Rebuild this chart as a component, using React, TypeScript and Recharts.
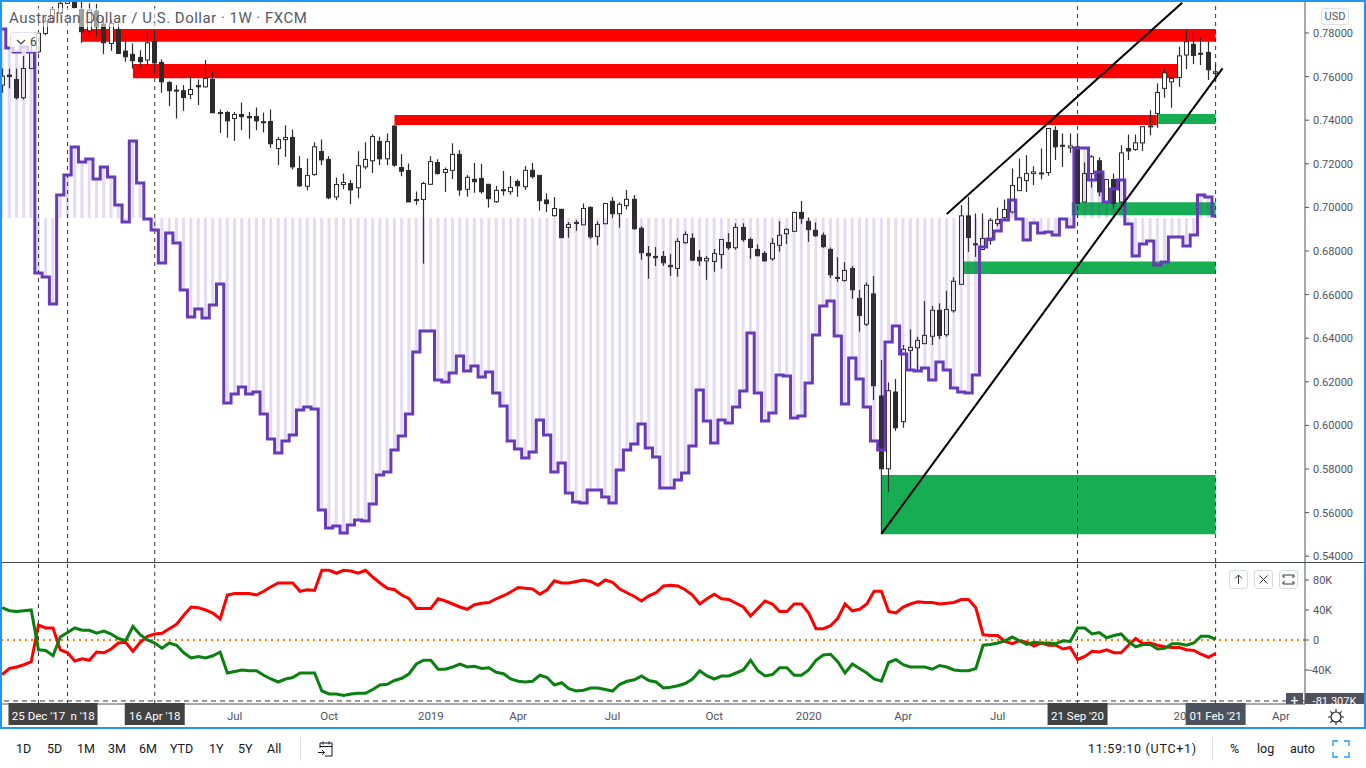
import React from "react";
import {
  ComposedChart,
  Bar,
  Line,
  XAxis,
  YAxis,
  ReferenceArea,
  ReferenceLine,
} from "recharts";

// weekly AUD/USD candles, first one is 5 weeks before 25 Dec '17
const opens = [
  0.7561, 0.7607, 0.7587, 0.7503, 0.7637, 0.7714, 0.7798, 0.7852, 0.789, 0.7936,
  0.799, 0.7908, 0.781, 0.7901, 0.7841, 0.7752, 0.7816, 0.7717, 0.7702, 0.7688,
  0.7676, 0.776, 0.7665, 0.7573, 0.7538, 0.7535, 0.7518, 0.7559, 0.7553, 0.7587,
  0.7435, 0.7435, 0.7408, 0.7426, 0.7417, 0.7417, 0.7393, 0.7394, 0.727, 0.7311,
  0.7321, 0.7178, 0.7097, 0.7151, 0.7256, 0.722, 0.7048, 0.7105, 0.7109, 0.709,
  0.7186, 0.7214, 0.7302, 0.7223, 0.7373, 0.7183, 0.7169, 0.7036, 0.7036, 0.7106,
  0.7206, 0.716, 0.717, 0.7243, 0.7083, 0.7129, 0.7133, 0.7106, 0.7026, 0.7081,
  0.7072, 0.7119, 0.7095, 0.717, 0.7147, 0.7034, 0.6962, 0.6991, 0.6908, 0.6931,
  0.692, 0.7, 0.6867, 0.6925, 0.7028, 0.6971, 0.7008, 0.7037, 0.6904, 0.6789,
  0.6775, 0.6775, 0.6734, 0.672, 0.6838, 0.6858, 0.6771, 0.6755, 0.6752, 0.6784,
  0.6839, 0.6815, 0.6908, 0.6853, 0.6807, 0.6789, 0.6764, 0.6826, 0.6879, 0.689,
  0.6977, 0.6936, 0.6895, 0.6872, 0.6807, 0.6679, 0.6665, 0.672, 0.6583, 0.6464,
  0.6603, 0.6135, 0.5801, 0.6153, 0.6017, 0.6344, 0.6356, 0.6375, 0.6409, 0.6528,
  0.6416, 0.6526, 0.6647, 0.6961, 0.6833, 0.6807, 0.6849, 0.6926, 0.6953, 0.6979,
  0.7077, 0.7123, 0.7155, 0.7158, 0.716, 0.7353, 0.7285, 0.7273, 0.7278, 0.7025,
  0.7155, 0.7214, 0.7025, 0.7128, 0.7025, 0.727, 0.7266, 0.7296, 0.7371, 0.7431,
  0.7546, 0.7576, 0.7596, 0.7699, 0.7748, 0.7707, 0.7711, 0.7614,
];
const highs = [
  0.7637, 0.7637, 0.7637, 0.7694, 0.7752, 0.7806, 0.7875, 0.792, 0.796, 0.801,
  0.801, 0.7951, 0.7936, 0.7933, 0.7875, 0.7859, 0.7844, 0.778, 0.7752, 0.7721,
  0.7806, 0.7806, 0.7679, 0.7579, 0.7561, 0.7561, 0.7602, 0.7587, 0.7676, 0.7622,
  0.7449, 0.7442, 0.7438, 0.7481, 0.7438, 0.7458, 0.7435, 0.7449, 0.7324, 0.7376,
  0.7357, 0.7235, 0.7224, 0.7299, 0.7311, 0.7235, 0.7137, 0.7155, 0.7125, 0.7258,
  0.7299, 0.7336, 0.7324, 0.7339, 0.7377, 0.7244, 0.7201, 0.7073, 0.7117, 0.7235,
  0.7221, 0.7183, 0.7294, 0.7263, 0.7148, 0.7204, 0.7199, 0.7106, 0.7098, 0.7167,
  0.7144, 0.7129, 0.719, 0.7204, 0.7147, 0.7064, 0.7047, 0.6994, 0.6933, 0.6942,
  0.7018, 0.7005, 0.6936, 0.7018, 0.7047, 0.7023, 0.708, 0.7057, 0.6913, 0.6823,
  0.6818, 0.68, 0.6786, 0.6859, 0.689, 0.6881, 0.6804, 0.6777, 0.6809, 0.6853,
  0.6882, 0.6927, 0.6927, 0.6862, 0.683, 0.68, 0.6859, 0.6937, 0.6904, 0.698,
  0.7029, 0.6954, 0.6931, 0.6885, 0.6816, 0.6772, 0.6749, 0.6731, 0.6621, 0.6656,
  0.6685, 0.63, 0.6197, 0.6213, 0.6369, 0.6441, 0.6407, 0.6571, 0.6548, 0.656,
  0.6617, 0.6679, 0.701, 0.7048, 0.6972, 0.6972, 0.6949, 0.6999, 0.7036, 0.7178,
  0.7224, 0.724, 0.7189, 0.727, 0.7362, 0.7373, 0.7339, 0.7339, 0.7339, 0.7206,
  0.724, 0.7229, 0.713, 0.7155, 0.7285, 0.7334, 0.7334, 0.737, 0.7446, 0.7569,
  0.7637, 0.7602, 0.7737, 0.7816, 0.7803, 0.778, 0.7761, 0.766,
];
const lows = [
  0.7526, 0.7546, 0.7495, 0.7495, 0.7637, 0.7709, 0.779, 0.7844, 0.7882, 0.796,
  0.7912, 0.7755, 0.7783, 0.7783, 0.7703, 0.7718, 0.7703, 0.7668, 0.7637, 0.7645,
  0.7645, 0.7617, 0.7526, 0.7464, 0.7408, 0.7443, 0.7497, 0.7469, 0.755, 0.7434,
  0.7342, 0.7319, 0.7305, 0.7354, 0.7315, 0.7354, 0.7344, 0.7273, 0.7194, 0.7232,
  0.7174, 0.7094, 0.7079, 0.7145, 0.7194, 0.7038, 0.7033, 0.7084, 0.7015, 0.7042,
  0.7175, 0.7158, 0.7194, 0.7194, 0.7186, 0.7143, 0.7025, 0.7012, 0.6742, 0.7102,
  0.7151, 0.7071, 0.713, 0.7054, 0.7049, 0.7067, 0.7063, 0.6999, 0.7021, 0.7054,
  0.7058, 0.7049, 0.708, 0.7132, 0.6985, 0.6979, 0.6957, 0.6861, 0.6861, 0.6893,
  0.692, 0.6856, 0.6827, 0.6925, 0.6951, 0.6907, 0.6991, 0.6898, 0.676, 0.6673,
  0.6731, 0.6732, 0.6686, 0.6682, 0.6833, 0.6755, 0.6732, 0.6668, 0.6705, 0.6719,
  0.6806, 0.6806, 0.6842, 0.6764, 0.6778, 0.6751, 0.6755, 0.6797, 0.6832, 0.689,
  0.6925, 0.6842, 0.6865, 0.6813, 0.6677, 0.6659, 0.6659, 0.6581, 0.643, 0.6456,
  0.6116, 0.5801, 0.5696, 0.5975, 0.5989, 0.6254, 0.6254, 0.6375, 0.6369, 0.6396,
  0.6407, 0.6517, 0.6647, 0.6796, 0.6773, 0.6804, 0.6829, 0.6914, 0.6938, 0.6972,
  0.7077, 0.7071, 0.7102, 0.7129, 0.7145, 0.7217, 0.7186, 0.725, 0.7018, 0.7025,
  0.7091, 0.7051, 0.702, 0.6995, 0.7018, 0.7217, 0.7259, 0.7259, 0.7331, 0.7365,
  0.7503, 0.7457, 0.7553, 0.7634, 0.7657, 0.7653, 0.7584, 0.7576,
];
const closes = [
  0.7602, 0.76, 0.7503, 0.7637, 0.7714, 0.7798, 0.7852, 0.7908, 0.7936, 0.799,
  0.7917, 0.7806, 0.7905, 0.7829, 0.7755, 0.7844, 0.7706, 0.7691, 0.7673, 0.7668,
  0.7755, 0.7663, 0.7576, 0.7535, 0.7536, 0.7504, 0.7541, 0.7553, 0.7591, 0.7434,
  0.7433, 0.7397, 0.7426, 0.7416, 0.7411, 0.7397, 0.7391, 0.7292, 0.7311, 0.7321,
  0.7186, 0.7099, 0.7146, 0.7278, 0.7218, 0.7044, 0.7105, 0.7114, 0.708, 0.7191,
  0.722, 0.7325, 0.7223, 0.7302, 0.7194, 0.7166, 0.7025, 0.7033, 0.711, 0.721,
  0.7155, 0.7174, 0.7243, 0.708, 0.7138, 0.7118, 0.7072, 0.704, 0.7078, 0.7078,
  0.7092, 0.7099, 0.717, 0.7141, 0.7031, 0.7017, 0.6995, 0.6861, 0.6922, 0.6929,
  0.6995, 0.6865, 0.6922, 0.7018, 0.6971, 0.7014, 0.7037, 0.6902, 0.6792, 0.6778,
  0.6769, 0.6746, 0.6728, 0.6844, 0.6876, 0.6758, 0.6755, 0.6766, 0.6789, 0.6853,
  0.6815, 0.6908, 0.6852, 0.6816, 0.6778, 0.6755, 0.6835, 0.6872, 0.6899, 0.6977,
  0.695, 0.6898, 0.687, 0.682, 0.6691, 0.6675, 0.6711, 0.6622, 0.6505, 0.6643,
  0.6182, 0.5801, 0.6159, 0.5989, 0.6349, 0.6358, 0.639, 0.6413, 0.6528, 0.6412,
  0.6532, 0.6661, 0.6961, 0.6862, 0.6829, 0.6857, 0.6941, 0.6944, 0.699, 0.71,
  0.7136, 0.7155, 0.7163, 0.7155, 0.7362, 0.7278, 0.7282, 0.7282, 0.7018, 0.7155,
  0.7232, 0.7071, 0.7128, 0.7018, 0.725, 0.7259, 0.7296, 0.737, 0.7374, 0.7527,
  0.7617, 0.7591, 0.7695, 0.776, 0.7697, 0.7704, 0.7631, 0.7622,
];

// COT net position drawn over the price pane, on its own unlabelled scale
const netOverlay = [
  189, 170, 166, 171, 166, -55, -59, -86, 23, 43,
  71, 56, 59, 39, 51, 41, 13, -4, 77, 35,
  -1, -12, -45, -15, -25, -72, -99, -91, -100, -87,
  -66, -185, -176, -169, -176, -174, -196, -221, -235, -223,
  -217, -192, -189, -191, -292, -310, -308, -315, -307, -302,
  -303, -286, -257, -254, -232, -218, -196, -134, -113, -113,
  -162, -164, -155, -138, -153, -148, -159, -154, -175, -188,
  -223, -231, -240, -234, -202, -217, -254, -245, -275, -284,
  -285, -272, -272, -279, -285, -252, -232, -226, -206, -230,
  -239, -270, -270, -262, -255, -228, -172, -203, -225, -202,
  -205, -189, -173, -115, -175, -203, -195, -157, -158, -200,
  -198, -165, -117, -88, -83, -118, -186, -140, -161, -189,
  -223, -232, -124, -108, -136, -152, -153, -150, -162, -144,
  -152, -170, -174, -175, -157, -29, -21, -13, -2, 18,
  -1, -22, -5, -15, -14, -17, -1, -9, 70, 70,
  38, 46, 16, 29, 38, -6, -38, -26, -23, -47,
  -44, -19, -19, -28, -17, 23, 21, 2,
];

// lower pane, thousands of contracts
const greenNet = [
  43, 39, 38, 39, 40, -13, -14, -21, 4, 10,
  16, 13, 13, 9, 12, 8, 2, -1, 18, 7,
  0, -4, -11, -4, -7, -17, -24, -22, -24, -21,
  -16, -44, -42, -40, -41, -41, -47, -52, -56, -52,
  -50, -44, -44, -44, -68, -72, -72, -74, -72, -71,
  -71, -66, -60, -59, -54, -51, -45, -32, -27, -27,
  -39, -39, -36, -32, -36, -35, -38, -37, -43, -45,
  -52, -55, -56, -55, -47, -50, -60, -57, -65, -68,
  -67, -64, -64, -66, -68, -59, -55, -53, -48, -54,
  -56, -64, -63, -61, -58, -52, -41, -48, -52, -48,
  -48, -44, -40, -27, -41, -48, -46, -37, -37, -47,
  -47, -40, -27, -20, -19, -29, -44, -32, -38, -44,
  -52, -55, -30, -26, -33, -36, -36, -36, -39, -34,
  -36, -40, -41, -41, -38, -7, -6, -4, -1, 4,
  -1, -6, -3, -4, -4, -5, -1, -2, 16, 16,
  8, 10, 3, 6, 8, -2, -9, -6, -6, -12,
  -11, -5, -5, -7, -4, 5, 5, 1,
];
const redNet = [
  -46, -38, -36, -33, -29, 20, 16, 16, -13, -17,
  -28, -25, -27, -16, -17, -12, -4, -3, -15, -3,
  5, 8, 9, 15, 21, 33, 44, 43, 40, 36,
  28, 60, 62, 62, 62, 60, 65, 71, 76, 76,
  76, 65, 67, 66, 93, 93, 89, 93, 92, 89,
  93, 84, 76, 69, 67, 60, 55, 42, 42, 42,
  55, 52, 48, 44, 41, 47, 49, 50, 55, 59,
  64, 70, 69, 68, 61, 67, 79, 76, 76, 78,
  80, 78, 73, 80, 77, 68, 63, 58, 52, 59,
  63, 72, 73, 72, 67, 60, 48, 55, 61, 55,
  54, 49, 44, 32, 42, 52, 48, 38, 38, 48,
  48, 36, 15, 15, 19, 29, 48, 39, 41, 48,
  65, 65, 38, 36, 44, 48, 51, 50, 50, 48,
  49, 50, 54, 54, 43, 7, 6, 6, -2, -5,
  -1, -3, -8, -4, -7, -7, -12, -10, -26, -22,
  -15, -16, -13, -17, -17, -7, 2, -5, -4, -7,
  -9, -10, -10, -13, -14, -19, -23, -18,
];

const priceTicks = [0.78, 0.76, 0.74, 0.72, 0.7, 0.68, 0.66, 0.64, 0.62, 0.6, 0.58, 0.56, 0.54];
const netTicks = [80, 40, 0, -40];
// the Jan '18 and 2021 labels sit half hidden behind their neighbours in the original
const timeWeeks = [27, 40, 54, 66, 79, 93, 106, 119, 132, 158, 171, 4, 0, 16, 143, 162];
const timeLabels = ["Jul", "Oct", "2019", "Apr", "Jul", "Oct", "2020", "Apr", "Jul", "20", "Apr", "n '18", "25 Dec '17", "16 Apr '18", "21 Sep '20", "01 Feb '21"];
const markedWeeks = [4, 0, 16, 143, 162];

const redZones = [
  { from: 6, to: 162, low: 0.776, high: 0.7818 },
  { from: 13, to: 156.7, low: 0.7593, high: 0.7658 },
  { from: 49, to: 153.9, low: 0.7378, high: 0.7424 },
];
const greenZones = [
  { from: 154.1, to: 162, low: 0.7382, high: 0.7428 },
  { from: 142.2, to: 162, low: 0.6964, high: 0.7024 },
  { from: 127.1, to: 162, low: 0.6694, high: 0.6752 },
  { from: 116, to: 162, low: 0.5501, high: 0.5772 },
];
const trendLines = [
  [{ x: 125, y: 0.697 }, { x: 157.4, y: 0.7939 }],
  [{ x: 116, y: 0.5502 }, { x: 162.95, y: 0.7638 }],
];

const rangeLeft = ["1D", "5D", "1M", "3M", "6M", "YTD", "1Y", "5Y", "All"];
const rangeLeftX = [16, 47, 77, 108, 139, 170, 209, 238, 267];

const rows = opens.map((open, k) => ({
  week: k - 5,
  open,
  high: highs[k],
  low: lows[k],
  close: closes[k],
  net: netOverlay[k],
  green: greenNet[k],
  red: redNet[k],
}));

const weekDomain = [-5.02, 174.3];
const FONT = "Roboto, sans-serif";
const AXIS_TEXT = "#50535e";
const LINE_DARK = "#50535e";

function Candle(props: any) {
  const { x, y, width, height, payload } = props;
  const { open, close, high, low } = payload;
  const perUnit = height / (high - low || 1);
  const cx = Math.floor(x + width / 2) + 0.5;
  const top = y + (high - Math.max(open, close)) * perUnit;
  const bottom = y + (high - Math.min(open, close)) * perUnit;
  const up = close >= open;
  const color = "#2b2b2b";
  return (
    <g>
      <line x1={cx} x2={cx} y1={y} y2={y + height} stroke={color} strokeWidth={1.2} />
      <rect
        x={cx - 2}
        y={top}
        width={4}
        height={Math.max(bottom - top, 1)}
        fill={up ? "#ffffff" : color}
        stroke={color}
        strokeWidth={1}
      />
    </g>
  );
}

function TimeTick(props: any) {
  const { x, y, payload } = props;
  const k = timeWeeks.indexOf(payload.value);
  const label = timeLabels[k];
  const top = y - 1;
  const style = { fontSize: 11.5, fontFamily: FONT };
  if (payload.value === 4) {
    // only the tail of this flag shows, the 25 Dec flag covers the rest
    return (
      <g>
        <rect x={x} y={top} width={30} height={22} fill="#434343" />
        <text x={x + 3} y={top + 17} {...style} fill="#ffffff">{label}</text>
      </g>
    );
  }
  if (payload.value === 158) {
    return <text x={x} y={top + 17} textAnchor="end" {...style} fill={AXIS_TEXT}>{label}</text>;
  }
  if (markedWeeks.includes(payload.value)) {
    const fill = payload.value === 162 ? "#4c525e" : "#434343";
    return (
      <g>
        <rect x={x - 30} y={top} width={60} height={22} fill={fill} />
        <text x={x} y={top + 17} textAnchor="middle" {...style} fill="#ffffff">{label}</text>
      </g>
    );
  }
  return <text x={x} y={top + 17} textAnchor="middle" {...style} fill={AXIS_TEXT}>{label}</text>;
}

function NetTick(props: any) {
  const { x, y, payload } = props;
  return (
    <text x={payload.value < 0 ? x - 4 : x} y={y + 4} fontSize={11} fontFamily={FONT} fill={AXIS_TEXT}>
      {payload.value === 0 ? "0" : `${payload.value}K`}
    </text>
  );
}

function PricePane() {
  return (
    <ComposedChart width={1362} height={560} data={rows} margin={{ top: 0, right: 0, bottom: 0, left: 0 }} barGap={0}>
      <XAxis dataKey="week" type="number" domain={weekDomain} allowDataOverflow hide xAxisId="w" />
      <XAxis dataKey="week" type="number" domain={weekDomain} allowDataOverflow hide xAxisId="o" />
      <YAxis
        yAxisId="price"
        orientation="right"
        width={59}
        domain={[0.53734, 0.79422]}
        allowDataOverflow
        ticks={priceTicks}
        interval={0}
        tickSize={4}
        tickMargin={4}
        stroke={LINE_DARK}
        tick={{ fontSize: 11, fontFamily: FONT, fill: AXIS_TEXT }}
        tickFormatter={(v: number) => v.toFixed(5)}
      />
      <YAxis yAxisId="overlay" hide domain={[-344, 216]} allowDataOverflow />
      {redZones.map((z) => (
        <ReferenceArea key={z.from} xAxisId="w" yAxisId="price" x1={z.from} x2={z.to} y1={z.low} y2={z.high} fill="#ff0000" fillOpacity={1} stroke="none" ifOverflow="visible" />
      ))}
      {greenZones.map((z) => (
        <ReferenceArea key={z.from} xAxisId="w" yAxisId="price" x1={z.from} x2={z.to} y1={z.low} y2={z.high} fill="#16ad53" fillOpacity={1} stroke="none" ifOverflow="visible" />
      ))}
      {markedWeeks.map((w) => (
        <ReferenceLine key={w} xAxisId="w" yAxisId="price" x={w} stroke="#333333" strokeDasharray="4 4" />
      ))}
      <Bar
        xAxisId="w"
        yAxisId="price"
        dataKey={(d: any) => [d.low, d.high]}
        barSize={5}
        shape={<Candle />}
        isAnimationActive={false}
      />
      <Bar
        xAxisId="o"
        yAxisId="overlay"
        dataKey="net"
        barSize={3}
        fill="#673ab7"
        fillOpacity={0.18}
        isAnimationActive={false}
      />
      <Line
        xAxisId="o"
        yAxisId="overlay"
        dataKey="net"
        type="step"
        stroke="#673ab7"
        strokeWidth={3}
        dot={false}
        isAnimationActive={false}
      />
      {trendLines.map((seg) => (
        <ReferenceLine key={seg[0].x} xAxisId="w" yAxisId="price" segment={seg} stroke="#000000" strokeWidth={2} ifOverflow="visible" />
      ))}
      <ReferenceLine xAxisId="w" yAxisId="price" segment={[{ x: 116, y: 0.5501 }, { x: 116, y: 0.58 }]} stroke="#222222" strokeWidth={1} />
    </ComposedChart>
  );
}

function NetPane() {
  return (
    <ComposedChart width={1362} height={164} data={rows} margin={{ top: 0, right: 0, bottom: 0, left: 0 }}>
      <XAxis
        dataKey="week"
        type="number"
        domain={weekDomain}
        allowDataOverflow
        ticks={timeWeeks}
        interval={0}
        height={23}
        tickLine={false}
        tickSize={0}
        tickMargin={0}
        stroke={LINE_DARK}
        tick={<TimeTick />}
      />
      <YAxis
        orientation="right"
        width={59}
        domain={[-85.33, 102.67]}
        allowDataOverflow
        ticks={netTicks}
        interval={0}
        tickSize={4}
        tickMargin={4}
        stroke={LINE_DARK}
        tick={<NetTick />}
      />
      <ReferenceLine y={0} stroke="#ff8000" strokeWidth={2} strokeDasharray="2 4" />
      <ReferenceLine y={-81.307} stroke="#333333" strokeDasharray="5 4" />
      {markedWeeks.map((w) => (
        <ReferenceLine key={w} x={w} stroke="#333333" strokeDasharray="4 4" />
      ))}
      <Line dataKey="red" stroke="#ff0000" strokeWidth={3} dot={false} isAnimationActive={false} />
      <Line dataKey="green" stroke="#0a8010" strokeWidth={3} dot={false} isAnimationActive={false} />
    </ComposedChart>
  );
}

const put = (left: number, top: number, extra: React.CSSProperties = {}): React.CSSProperties => ({
  position: "absolute",
  left,
  top,
  ...extra,
});

const paneButton = (left: number): React.CSSProperties =>
  put(left, 570, {
    width: 19,
    height: 19,
    border: "1px solid #d9dbe0",
    borderRadius: 3,
    background: "#ffffff",
    boxSizing: "border-box",
  });

export default function App() {
  const toolText: React.CSSProperties = { fontSize: 12.5, color: "#131722", lineHeight: "16px" };
  return (
    <div style={{ position: "absolute", left: 0, top: 0, width: 1366, height: 768, overflow: "hidden", background: "#ffffff", fontFamily: FONT }}>
      <div style={put(2, 2)}>
        <PricePane />
      </div>
      <div style={put(2, 563)}>
        <NetPane />
      </div>
      <div style={put(2, 562, { width: 1362, height: 1, background: "#45484f" })} />

      {/* legend */}
      <div style={put(8, 8, { height: 19, width: 302, background: "rgba(255,255,255,0.55)" })} />
      <div style={put(9, 9, { fontSize: 15, lineHeight: "18px", color: "#555a66", whiteSpace: "nowrap", letterSpacing: 0.48 })}>
        Australian Dollar / U.S. Dollar · 1W · FXCM
      </div>
      <div style={put(10, 32, { width: 30, height: 20, boxSizing: "border-box", border: "1px solid #dfe1e6", borderRadius: 3, background: "rgba(255,255,255,0.75)" })}>
        <svg width="28" height="18" style={{ position: "absolute", left: 0, top: 0 }}>
          <path d="M6 7 L10 11 L14 7" fill="none" stroke="#444" strokeWidth={1.2} />
        </svg>
        <span style={{ position: "absolute", left: 19, top: 2, fontSize: 12, color: "#444" }}>6</span>
      </div>
      <div style={put(1321, 8, { width: 28, height: 17, boxSizing: "border-box", border: "1px solid #dfe1e6", borderRadius: 3, fontSize: 11, lineHeight: "15px", textAlign: "center", color: "#50535e", background: "#fff" })}>
        USD
      </div>

      {/* pane buttons */}
      <div style={paneButton(1229)}>
        <svg width="17" height="17">
          <path d="M8.5 13 V4 M5 7.5 L8.5 4 L12 7.5" fill="none" stroke="#333" strokeWidth={1} />
        </svg>
      </div>
      <div style={paneButton(1254)}>
        <svg width="17" height="17">
          <path d="M4.5 4.5 L12.5 12.5 M12.5 4.5 L4.5 12.5" fill="none" stroke="#333" strokeWidth={1} />
        </svg>
      </div>
      <div style={paneButton(1279)}>
        <svg width="17" height="17">
          <path d="M3 6 V4 H14 V6 M3 11 V13 H14 V11 M3 6 H5 M12 6 H14 M3 11 H5 M12 11 H14" fill="none" stroke="#333" strokeWidth={1} />
        </svg>
      </div>

      {/* last value flag */}
      <div style={put(1286, 693, { width: 17, height: 11, background: "#50535e", color: "#fff", overflow: "hidden", fontSize: 14, lineHeight: "17px", textAlign: "center" })}>+</div>
      <div style={put(1305, 693, { width: 59, height: 11, background: "#50535e", color: "#fff", overflow: "hidden", fontSize: 11, lineHeight: "17px", textAlign: "center" })}>-81.307K</div>

      {/* settings gear */}
      <svg width="18" height="18" style={put(1327, 708)}>
        <circle cx="9" cy="9" r="5" fill="none" stroke="#222" strokeWidth={1.2} />
        <path d="M9 1 V4 M9 14 V17 M1 9 H4 M14 9 H17 M3.3 3.3 L5.4 5.4 M12.6 12.6 L14.7 14.7 M3.3 14.7 L5.4 12.6 M12.6 5.4 L14.7 3.3" stroke="#222" strokeWidth={1.2} />
      </svg>

      {/* widget frame */}
      <div style={put(0, 0, { width: 1366, height: 729, boxSizing: "border-box", border: "2px solid #2196f3", pointerEvents: "none" })} />

      {/* toolbar */}
      {rangeLeft.map((r, k) => (
        <div key={r} style={put(rangeLeftX[k], 741, toolText)}>
          {r}
        </div>
      ))}
      <div style={put(300, 737, { width: 1, height: 24, background: "#e0e3eb" })} />
      <svg width="18" height="18" style={put(317, 740)}>
        <path d="M3 8 V3 H15 V16 H8 M3 6.5 H15 M6 1.5 V4.5 M12 1.5 V4.5 M1 12.5 H7 M5 10 L7.5 12.5 L5 15" fill="none" stroke="#131722" strokeWidth={1} />
      </svg>
      <div style={put(1088, 741, { ...toolText, letterSpacing: 0.7 })}>11:59:10 (UTC+1)</div>
      <div style={put(1212, 737, { width: 1, height: 24, background: "#e0e3eb" })} />
      <div style={put(1230, 741, toolText)}>%</div>
      <div style={put(1257, 741, toolText)}>log</div>
      <div style={put(1290, 741, toolText)}>auto</div>
      <svg width="18" height="18" style={put(1332, 740)}>
        <path d="M1 6 V1 H6 M12 1 H17 V6 M17 12 V17 H12 M6 17 H1 V12" fill="none" stroke="#2196f3" strokeWidth={1.3} />
      </svg>
    </div>
  );
}
